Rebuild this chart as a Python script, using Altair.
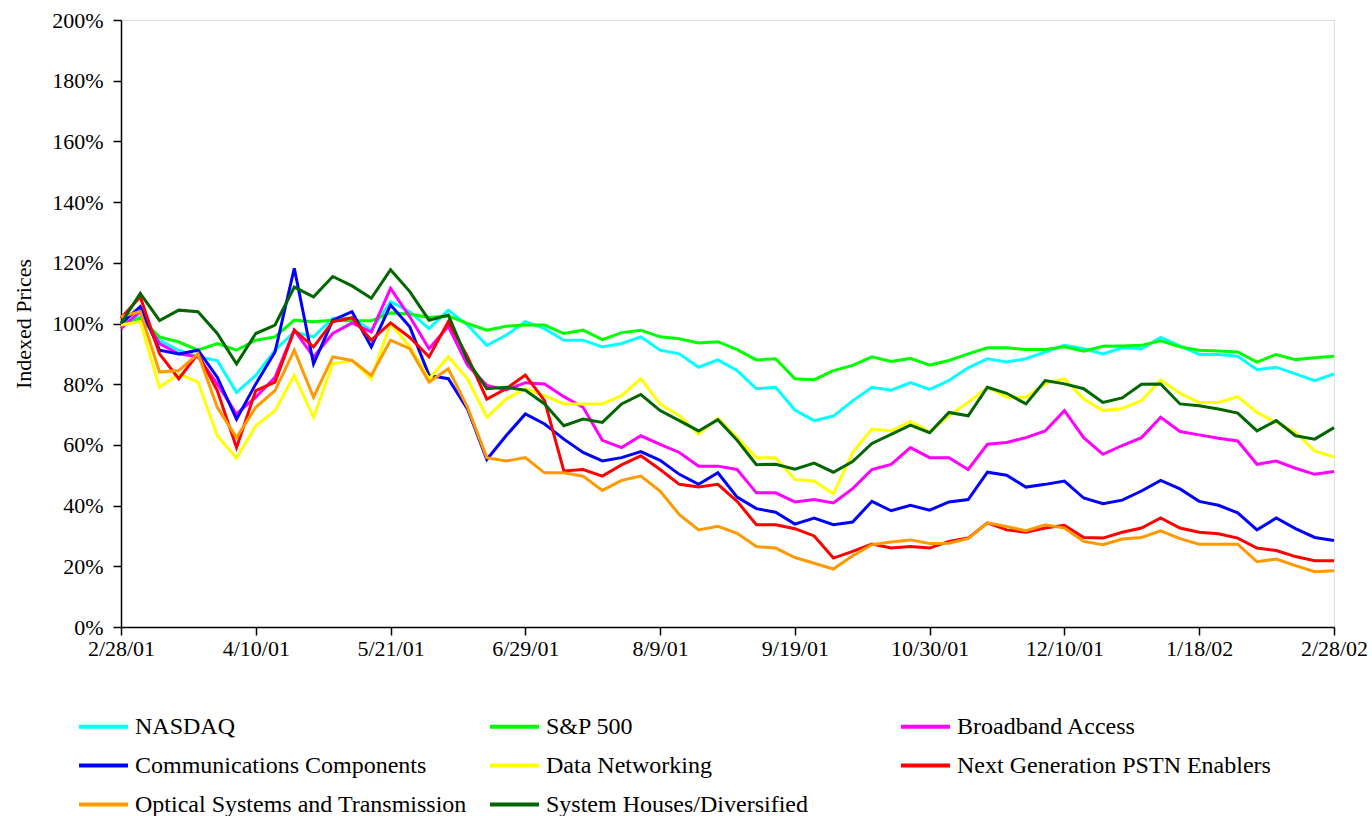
import altair as alt
import pandas as pd

# trading-day index (every 4th trading day), tick every 28 trading days
x_index = list(range(0, 253, 4))
tick_values = list(range(0, 253, 28))
tick_labels = ["2/28/01", "4/10/01", "5/21/01", "6/29/01", "8/9/01",
               "9/19/01", "10/30/01", "12/10/01", "1/18/02", "2/28/02"]

series_names = ["NASDAQ", "S&P 500", "Broadband Access",
                "Communications Components", "Data Networking",
                "Next Generation PSTN Enablers",
                "Optical Systems and Transmission", "System Houses/Diversified"]
series_colors = ["#00FFFF", "#00FF00", "#FF00FF", "#0000FF", "#FFFF00",
                 "#FF0000", "#FF9900", "#006600"]

nasdaq = [100, 102.2, 94.5, 91.2, 89, 87.8, 77.3, 82.9, 91.2, 97.2, 95.6,
          101.7, 101.7, 97.8, 107.2, 103.9, 98.3, 104.4, 99.5, 92.8, 96.1,
          100.6, 98.3, 94.5, 94.5, 92.3, 93.4, 95.6, 91.2, 90, 85.6,
          88, 84.5, 78.5, 79, 71.5, 68, 69.5, 74.5, 79, 78, 80.5,
          78.3, 81.2, 85.4, 88.4, 87.3, 88.4, 90.6, 92.8, 91.7, 90,
          92, 91.7, 95.4, 92.6, 89.8, 89.8, 89.2, 84.8, 85.6, 83.4, 81.2, 83.4]
sp500 = [100, 101.7, 95.6, 93.9, 91.2, 93.4, 91.2, 94.5, 95.6, 101.1, 100.6,
         101.1, 100.9, 100.9, 103.5, 103.1, 102, 102.5, 100, 97.8, 99.1,
         99.5, 99.5, 96.7, 97.8, 94.7, 97, 97.8, 95.6, 95, 93.6,
         94, 91.4, 88, 88.4, 81.8, 81.5, 84.5, 86.2, 89, 87.5, 88.5,
         86.3, 87.8, 90, 92, 92, 91.4, 91.4, 92.3, 90.9, 92.5,
         92.6, 92.8, 94.3, 92.3, 91.2, 90.9, 90.6, 87.3, 89.8, 88.1, 88.7, 89.2]
broadband = [98.3, 104, 93.4, 90, 89, 80.1, 70.2, 75.7, 82.3, 97.8, 89,
             96.7, 100.2, 97.2, 111.6, 102.2, 91.7, 99.1, 86.2, 79.6, 78.1,
             80.5, 80.1, 75.9, 72.4, 61.5, 59.1, 63, 60.2, 57.5, 53,
             53, 51.9, 44.2, 44.2, 41.2, 42, 40.9, 45.6, 51.9, 53.6, 59.1,
             55.8, 55.8, 51.9, 60.2, 60.8, 62.4, 64.6, 71.3, 62.4, 56.9,
             59.8, 62.4, 69.1, 64.4, 63.3, 62.2, 61.3, 53.6, 54.7, 52.3, 50.3, 51.2]
comm_comp = [100, 105.5, 91.2, 90, 91.2, 82.3, 68.5, 80.1, 90.6, 118.2, 86.7,
             101.1, 103.9, 92.3, 106.1, 98.9, 82.9, 81.8, 71.8, 55.2, 63,
             70.2, 66.9, 61.9, 57.5, 54.7, 55.8, 57.8, 54.9, 50.3, 47,
             50.8, 42.8, 39, 37.8, 33.9, 35.9, 33.7, 34.6, 41.4, 38.3, 40.1,
             38.5, 41.2, 42, 51, 50, 46.1, 47, 48.1, 42.5, 40.6,
             41.8, 44.8, 48.3, 45.5, 41.4, 40.1, 37.6, 32, 35.9, 32.4, 29.5, 28.5]
data_net = [99.5, 100.6, 79, 83.4, 80.7, 63, 55.6, 66.3, 71.3, 82.9, 69.1,
            86.7, 87.8, 81.8, 100, 92.3, 81.8, 89, 81.8, 69.1, 75.1,
            78.5, 76.2, 73.5, 73.5, 73.5, 76.2, 81.8, 73.5, 69.6, 63.5,
            68.8, 62.4, 55.8, 55.8, 48.6, 48.1, 43.9, 57.5, 65.2, 64.6, 67.7,
            64.3, 69.6, 74, 79, 75.7, 75.7, 80.1, 81.8, 75.1, 71.3,
            72, 74.6, 81.4, 77, 74, 74, 75.9, 70.7, 67.4, 64.1, 58, 56]
next_gen = [101.7, 108.8, 90, 81.8, 90, 77.9, 59.1, 77.9, 80.7, 97.8, 92.3,
            100.6, 101.9, 94.5, 100.2, 95.4, 89, 100.6, 89, 75.1, 78.5,
            83, 74.6, 51.4, 51.9, 49.7, 53.4, 56.4, 51.9, 47, 46.1,
            47, 41.4, 33.7, 33.7, 32.4, 30, 22.7, 24.9, 27.3, 26, 26.5,
            26, 28.2, 29.3, 34.3, 32, 31.2, 32.6, 33.5, 29.5, 29.3,
            31.2, 32.6, 35.9, 32.6, 31.2, 30.7, 29.3, 26, 25.2, 23.2, 21.8, 21.8]
optical = [102.2, 103.9, 84, 84.5, 90, 72.4, 62.4, 72.4, 77.9, 91.2, 75.7,
           89, 87.8, 82.9, 94.5, 91.7, 80.7, 85.1, 72.4, 55.8, 54.7,
           55.8, 50.8, 50.8, 49.7, 45, 48.3, 49.7, 44.8, 37, 32,
           33.2, 30.9, 26.5, 26, 22.9, 21, 19.1, 23.5, 27.1, 28, 28.7,
           27.5, 27.6, 29.1, 34.3, 33.1, 31.7, 33.7, 32.6, 28.2, 27.1,
           29, 29.5, 31.7, 29.1, 27.3, 27.3, 27.3, 21.5, 22.4, 20.2, 18.2, 18.5]
sys_houses = [100, 109.9, 101, 104.4, 103.9, 96.7, 86.7, 96.7, 99.5, 112, 108.8,
              115.5, 112.4, 108.3, 117.7, 110.5, 101.1, 102.8, 87.8, 78.5, 79,
              78, 73.5, 66.3, 68.5, 67.4, 73.5, 76.6, 71.3, 68, 64.6,
              68.3, 61.5, 53.5, 53.6, 52, 54, 51, 54.5, 60.5, 63.5, 66.5,
              64, 70.7, 69.6, 79, 77, 73.5, 81.2, 80.1, 78.5, 74,
              75.5, 80, 80.1, 73.5, 72.9, 71.8, 70.5, 64.6, 68, 63, 61.9, 65.7]

all_series = [nasdaq, sp500, broadband, comm_comp, data_net, next_gen, optical, sys_houses]

rows = []
for k, (name, vals) in enumerate(zip(series_names, all_series)):
    for xi, v in zip(x_index, vals):
        rows.append({"idx": xi, "value": v, "series": name, "k": k})
df = pd.DataFrame(rows)

FONT = "Liberation Serif"
label_expr = "[" + ",".join("'%s'" % t for t in tick_labels) + "][round(datum.value / 28)]"

chart = alt.Chart(df).mark_line(strokeWidth=3).encode(
    x=alt.X("idx:Q",
            scale=alt.Scale(domain=[0, 252], nice=False, zero=False),
            axis=alt.Axis(values=tick_values, labelExpr=label_expr, title=None,
                          grid=False, tickSize=8, tickWidth=1.5, domainWidth=1.5,
                          domainColor="black", tickColor="black",
                          labelFont=FONT, labelFontSize=22, labelColor="black",
                          labelPadding=3, labelFlush=False)),
    y=alt.Y("value:Q",
            scale=alt.Scale(domain=[0, 200], nice=False),
            axis=alt.Axis(values=list(range(0, 201, 20)),
                          labelExpr="datum.value + '%'",
                          title="Indexed Prices", grid=False, tickSize=8,
                          tickWidth=1.5, domainWidth=1.5,
                          domainColor="black", tickColor="black",
                          labelFont=FONT, labelFontSize=22, labelColor="black",
                          labelPadding=10, titleFont=FONT, titleFontSize=22,
                          titleFontWeight="normal", titleColor="black",
                          titlePadding=16)),
    color=alt.Color("series:N",
                    scale=alt.Scale(domain=series_names, range=series_colors),
                    sort=series_names,
                    legend=alt.Legend(title=None, orient="none",
                                      legendX=-44, legendY=680,
                                      columns=3, direction="horizontal",
                                      gridAlign="all",
                                      symbolType="stroke", symbolStrokeWidth=4,
                                      symbolSize=2400,
                                      labelFont=FONT, labelFontSize=24,
                                      labelColor="black", labelOffset=5,
                                      labelLimit=500,
                                      columnPadding=15, rowPadding=0)),
    order=alt.Order("idx:Q"),
).properties(
    width=1213,
    height=607,
    autosize=alt.AutoSizeParams(type="none"),
    padding={"left": 121, "top": 20, "right": 38, "bottom": 189},
).configure_view(
    stroke="black", strokeWidth=1
).configure(background="white")

chart.save("out.html", embed_options={"renderer": "svg", "actions": False})
